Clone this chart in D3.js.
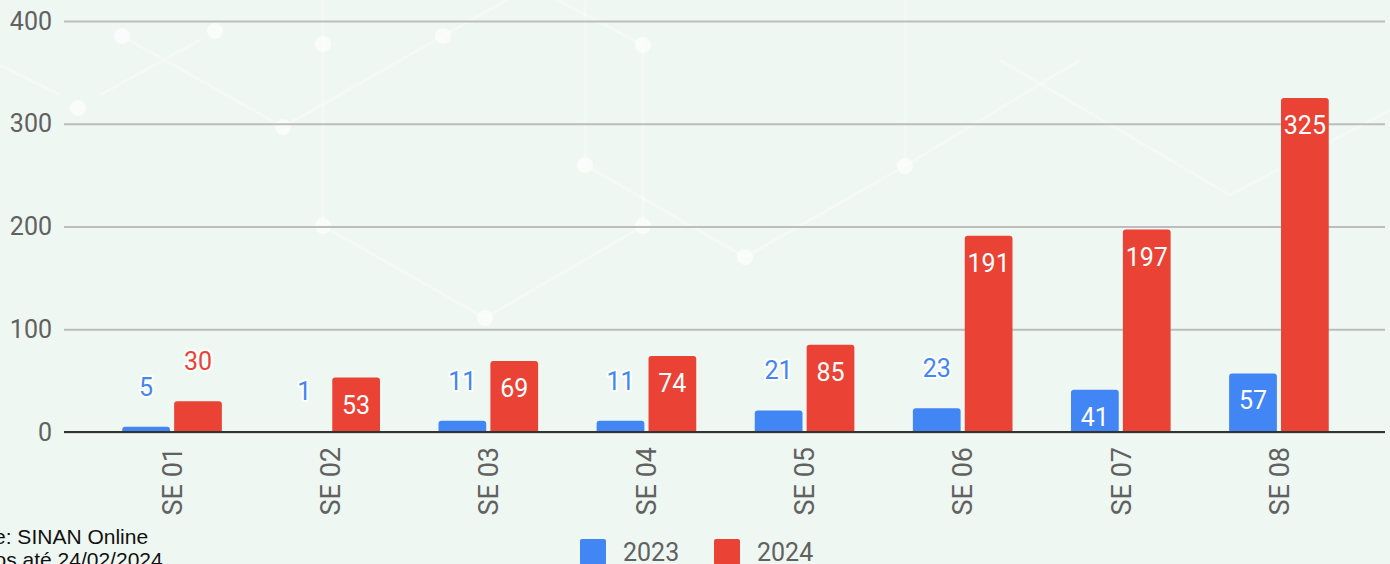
<!DOCTYPE html>
<html><head><meta charset="utf-8">
<script src="https://cdn.jsdelivr.net/npm/d3@7"></script>
<style>
html,body{margin:0;padding:0;background:#eff7f2;overflow:hidden;}
svg{display:block;}
</style></head>
<body>
<svg id="chart" width="1390" height="564"></svg>
<script>
const categories = ["SE 01","SE 02","SE 03","SE 04","SE 05","SE 06","SE 07","SE 08"];
const seriesNames = ["2023","2024"];
const values2023 = [5,1,11,11,21,23,41,57];
const values2024 = [30,53,69,74,85,191,197,325];
const yTicks = [0,100,200,300,400];
const colors = ["#4285f4","#ea4335"];
const sourceLines = ["Fonte: SINAN Online","Dados até 24/02/2024"];

// faint background decoration (hexagon network)
const decoNodes = [[122,36],[215,31],[78,108],[283,127],[323,44],[443,36],[585,165],[643,45],[905,166],[745,257],[485,318],[323,226],[643,226]];
const decoLinks = [[[122,36],[283,127]],[[283,127],[443,36]],[[323,0],[323,226]],[[323,226],[485,318]],[[485,318],[643,226]],[[643,226],[643,45]],[[643,45],[500,-30]],[[585,0],[585,165]],[[585,165],[745,257]],[[745,257],[905,166]],[[905,166],[905,0]],[[905,166],[1080,60]],[[1000,60],[1230,195]],[[1230,195],[1390,110]],[[0,65],[60,95]],[[100,95],[200,40]],[[443,36],[560,-30]]];

const svg = d3.select("#chart");
const plotLeft = 64, plotRight = 1385;
const fontMain = "Roboto, sans-serif";

const deco = svg.append("g");
deco.selectAll("line").data(decoLinks).join("line")
  .attr("x1",d=>d[0][0]).attr("y1",d=>d[0][1]).attr("x2",d=>d[1][0]).attr("y2",d=>d[1][1])
  .attr("stroke","#ffffff").attr("stroke-width",3).attr("stroke-opacity",0.3);
deco.selectAll("circle").data(decoNodes).join("circle")
  .attr("cx",d=>d[0]).attr("cy",d=>d[1]).attr("r",8).attr("fill","#ffffff").attr("fill-opacity",0.6);

const y = d3.scaleLinear().domain([0,400]).range([432,21]);
const x0 = d3.scaleBand().domain(categories).range([93,1358]).paddingInner(0.37).paddingOuter(0.185);
const x1 = d3.scaleBand().domain(seriesNames).range([0,x0.bandwidth()]).paddingInner(0.08);

// gridlines + y labels
const yAxis = d3.axisLeft(y).tickValues(yTicks).tickSize(-(plotRight-plotLeft)).tickPadding(12);
const gy = svg.append("g").attr("transform",`translate(${plotLeft},0)`).call(yAxis);
gy.select(".domain").remove();
gy.selectAll(".tick line").attr("stroke","#bdbdbd").attr("stroke-width",2);
gy.selectAll(".tick text").attr("font-family",fontMain).attr("font-size",25).attr("fill","#616161");

const data = categories.map((c,i)=>({cat:c, vals:[values2023[i],values2024[i]]}));

function topRoundedRect(xp, yp, w, h, r){
  r = Math.min(r, h, w/2);
  return `M${xp},${yp+h}V${yp+r}Q${xp},${yp} ${xp+r},${yp}H${xp+w-r}Q${xp+w},${yp} ${xp+w},${yp+r}V${yp+h}Z`;
}

const groups = svg.append("g").selectAll("g").data(data).join("g")
  .attr("transform",d=>`translate(${x0(d.cat)},0)`);

const items = groups.selectAll("g.item").data(d=>d.vals.map((v,j)=>({v, s:seriesNames[j], j}))).join("g").attr("class","item");
items.append("path")
  .attr("d",d=>{const yt=y(d.v); return topRoundedRect(x1(d.s), yt, x1.bandwidth(), y(0)-yt, 3);})
  .attr("fill",d=>colors[d.j]);

// baseline
svg.append("line").attr("x1",plotLeft).attr("x2",plotRight).attr("y1",y(0)).attr("y2",y(0))
  .attr("stroke","#333").attr("stroke-width",2);

// value labels
const inside = d => (y(0)-y(d.v)) > 35;
items.append("text")
  .attr("x",d=>x1(d.s)+x1.bandwidth()/2)
  .attr("y",d=>inside(d) ? y(d.v)+36 : y(d.v)-31)
  .attr("text-anchor","middle")
  .attr("font-family",fontMain).attr("font-size",25)
  .attr("fill",d=>inside(d) ? "#ffffff" : colors[d.j])
  .attr("stroke",d=>inside(d) ? "none" : "#ffffff")
  .attr("stroke-width",4).attr("stroke-linejoin","round").attr("paint-order","stroke")
  .text(d=>d.v);

// x labels rotated
svg.append("g").selectAll("text").data(categories).join("text")
  .attr("transform",d=>`translate(${x0(d)+x0.bandwidth()/2},447) rotate(-90)`)
  .attr("dy","0.36em").attr("text-anchor","end")
  .attr("font-family",fontMain).attr("font-size",27).attr("fill","#616161")
  .text(d=>d);

// legend
const legendX = [580,714];
const lg = svg.append("g").selectAll("g").data(seriesNames).join("g")
  .attr("transform",(d,i)=>`translate(${legendX[i]},539)`);
lg.append("rect").attr("width",26).attr("height",26).attr("rx",2).attr("fill",(d,i)=>colors[i]);
lg.append("text").attr("x",43).attr("y",22).attr("font-family",fontMain).attr("font-size",25).attr("fill","#616161").text(d=>d);

// source
svg.append("g").selectAll("text").data(sourceLines).join("text")
  .attr("x",(d,i)=>i===0 ? -48 : -44).attr("y",(d,i)=>544+i*23)
  .attr("font-family","'Liberation Sans', Arial, sans-serif").attr("font-size",21).attr("fill","#111")
  .text(d=>d);
</script>
</body></html>
